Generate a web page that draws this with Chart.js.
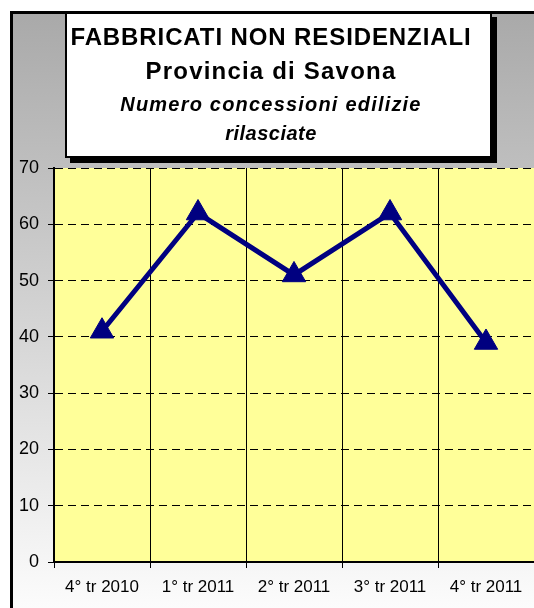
<!DOCTYPE html>
<html>

<head>
    <title>Fabbricati non residenziali - Savona</title>
    <script src="https://cdn.jsdelivr.net/npm/chart.js"></script>
    <style>
        body { margin: 0; background: #ffffff; overflow: hidden; }
        #wrap { position: relative; width: 534px; height: 608px; overflow: hidden; }
        #titleBox {
            position: absolute; left: 65px; top: 12px; width: 423px; height: 142px;
            background: #ffffff; border: 2px solid #000000;
            box-shadow: 5px 5px 0 #000000;
        }
        .tl {
            position: absolute; left: 4px; width: 534px; text-align: center; line-height: 1;
            font-family: Arial, "Liberation Sans", sans-serif; color: #000; white-space: nowrap;
            font-weight: bold;
        }
        .t1 { top: 25px; font-size: 24px; letter-spacing: 0.9px; }
        .t2 { top: 59px; font-size: 24px; letter-spacing: 1.2px; }
        .t3 { font-size: 20px; font-style: italic; letter-spacing: 1.2px; }
    </style>
</head>

<body>
    <div id="wrap">
        <canvas id="permitChart" width="534" height="608"></canvas>
        <div id="titleBox"></div>
        <div class="tl t1">FABBRICATI NON RESIDENZIALI</div>
        <div class="tl t2">Provincia di Savona</div>
        <div class="tl t3" style="top: 94px;">Numero concessioni edilizie</div>
        <div class="tl t3" style="top: 123px; letter-spacing: 0.5px;">rilasciate</div>
    </div>
    <script>
        // data
        var quarters = ['4° tr 2010', '1° tr 2011', '2° tr 2011', '3° tr 2011', '4° tr 2011'];
        var permits = [41, 62, 51, 62, 39];

        // gray gradient panel with black frame, yellow plot area
        var backdrop = {
            id: 'backdrop',
            beforeDraw: function (chart) {
                var ctx = chart.ctx;
                var a = chart.chartArea;
                ctx.save();
                var g = ctx.createLinearGradient(0, 12, 0, 608);
                g.addColorStop(0, '#a9a9a9');
                g.addColorStop(1, '#fcfcfc');
                ctx.fillStyle = g;
                ctx.fillRect(11, 12, 534, 608);
                ctx.strokeStyle = '#000000';
                ctx.lineWidth = 3;
                ctx.beginPath();
                ctx.moveTo(11.5, 608);
                ctx.lineTo(11.5, 12.5);
                ctx.lineTo(534, 12.5);
                ctx.stroke();
                ctx.fillStyle = '#ffff99';
                ctx.fillRect(a.left, a.top, a.right - a.left, a.bottom - a.top);
                ctx.restore();
            }
        };

        var ctx = document.getElementById('permitChart').getContext('2d');
        var chart = new Chart(ctx, {
            type: 'line',
            data: {
                labels: quarters,
                datasets: [{
                    label: 'Concessioni',
                    data: permits,
                    borderColor: '#000080',
                    backgroundColor: '#000080',
                    borderWidth: 5,
                    pointStyle: 'triangle',
                    pointRadius: 13.5,
                    pointHoverRadius: 13.5,
                    pointBorderWidth: 1,
                    fill: false,
                    tension: 0
                }]
            },
            options: {
                responsive: false,
                animation: false,
                layout: { autoPadding: false, padding: { top: 168, left: 0, right: 0, bottom: 0 } },
                plugins: {
                    legend: { display: false },
                    title: { display: false },
                    tooltip: { enabled: false }
                },
                scales: {
                    x: {
                        offset: true,
                        grid: {
                            offset: true,
                            color: '#000000',
                            lineWidth: 1,
                            tickLength: 6
                        },
                        border: { color: '#000000', width: 2 },
                        ticks: {
                            color: '#000000',
                            padding: 9,
                            maxRotation: 0,
                            font: { family: 'Arial, "Liberation Sans", sans-serif', size: 17 }
                        },
                        afterFit: function (scale) {
                            scale.height = 46;
                            scale.paddingLeft = 0;
                            scale.paddingRight = 0;
                        }
                    },
                    y: {
                        min: 0,
                        max: 70,
                        ticks: {
                            stepSize: 10,
                            color: '#000000',
                            padding: 9,
                            font: { family: 'Arial, "Liberation Sans", sans-serif', size: 18 }
                        },
                        grid: {
                            color: '#000000',
                            lineWidth: 1,
                            tickLength: 6,
                            tickBorderDash: []
                        },
                        border: { color: '#000000', width: 2, dash: [8, 5] },
                        afterFit: function (scale) {
                            scale.width = 54;
                            scale.paddingTop = 0;
                            scale.paddingBottom = 0;
                        }
                    }
                }
            },
            plugins: [backdrop]
        });
    </script>
</body>

</html>
